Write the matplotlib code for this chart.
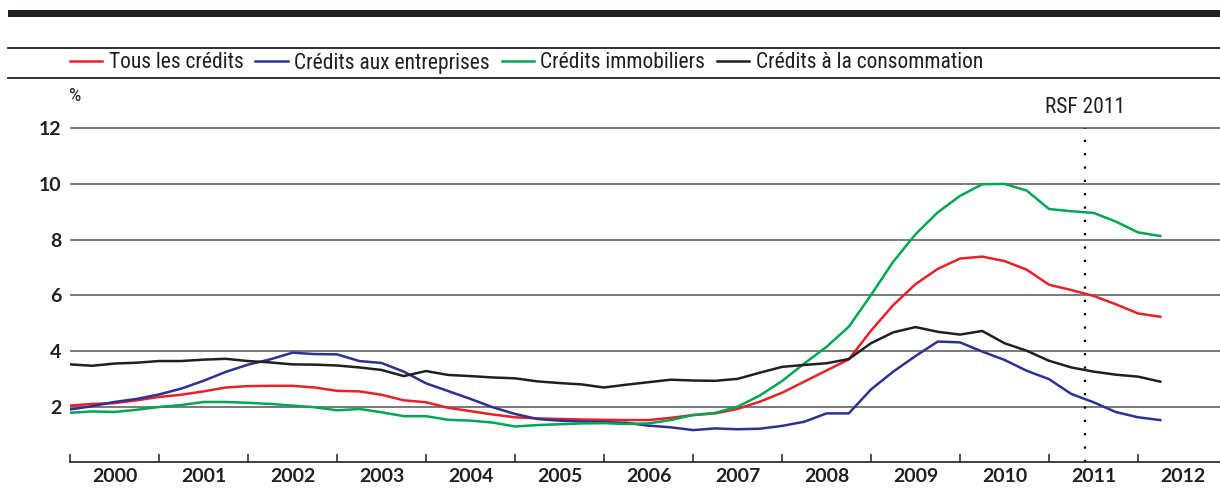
import numpy as np
import matplotlib
matplotlib.use('Agg')
import matplotlib.pyplot as plt
from matplotlib import font_manager
from matplotlib.lines import Line2D
from matplotlib.patches import Rectangle

# quarterly points, 2000 Q1 -> 2012 Q2
quarters = 2000 + np.arange(50) / 4.0
year_labels = [str(y) for y in range(2000, 2013)]

tous = [2.04, 2.10, 2.13, 2.23, 2.35, 2.43, 2.55, 2.69, 2.74, 2.75,
        2.75, 2.69, 2.57, 2.55, 2.43, 2.23, 2.16, 1.96, 1.84, 1.72,
        1.62, 1.58, 1.56, 1.54, 1.53, 1.52, 1.52, 1.60, 1.70, 1.76,
        1.92, 2.18, 2.50, 2.90, 3.30, 3.70, 4.73, 5.65, 6.40, 6.95,
        7.32, 7.39, 7.23, 6.92, 6.38, 6.19, 5.98, 5.68, 5.35, 5.23]
entreprises = [1.90, 2.02, 2.17, 2.28, 2.44, 2.65, 2.93, 3.25, 3.51, 3.70,
               3.94, 3.89, 3.88, 3.64, 3.57, 3.26, 2.84, 2.56, 2.28, 1.98,
               1.74, 1.56, 1.50, 1.47, 1.45, 1.42, 1.32, 1.26, 1.16, 1.22,
               1.19, 1.21, 1.31, 1.46, 1.76, 1.76, 2.62, 3.26, 3.82, 4.34,
               4.31, 3.98, 3.68, 3.29, 2.99, 2.46, 2.16, 1.81, 1.62, 1.52]
immobiliers = [1.78, 1.83, 1.81, 1.89, 1.99, 2.06, 2.17, 2.17, 2.14, 2.10,
               2.04, 1.98, 1.87, 1.92, 1.80, 1.66, 1.66, 1.53, 1.50, 1.43,
               1.29, 1.34, 1.37, 1.40, 1.41, 1.38, 1.40, 1.52, 1.70, 1.78,
               2.00, 2.40, 2.92, 3.55, 4.15, 4.87, 6.01, 7.21, 8.19, 8.98,
               9.57, 9.99, 10.00, 9.76, 9.10, 9.02, 8.96, 8.65, 8.26, 8.13]
consommation = [3.52, 3.47, 3.55, 3.58, 3.64, 3.64, 3.69, 3.72, 3.64, 3.59,
                3.52, 3.51, 3.48, 3.41, 3.32, 3.10, 3.28, 3.14, 3.10, 3.05,
                3.02, 2.91, 2.85, 2.80, 2.69, 2.79, 2.88, 2.97, 2.94, 2.93,
                3.00, 3.22, 3.43, 3.50, 3.56, 3.71, 4.28, 4.67, 4.86, 4.69,
                4.59, 4.72, 4.28, 4.01, 3.65, 3.41, 3.26, 3.15, 3.08, 2.90]

rsf_date = 2011.4

# pick a condensed face if one is around
installed = {f.name for f in font_manager.fontManager.ttflist}
narrow_face = None
for cand in ['Liberation Sans Narrow', 'DejaVu Sans Condensed', 'Roboto Condensed',
             'Open Sans Condensed', 'Noto Sans Display']:
    if cand in installed:
        narrow_face = cand
        break
if narrow_face:
    narrow = [narrow_face, 'DejaVu Sans']
    txt_size = 15.5
    stretch = 'normal'
else:
    narrow = ['Roboto', 'DejaVu Sans']
    txt_size = 13.5
    stretch = 'condensed'
boldfont = ['Lato', 'DejaVu Sans']

fig = plt.figure(figsize=(12.2, 4.88), dpi=100)
ax = fig.add_axes([70 / 1220, (488 - 462.4) / 488, 1150 / 1220, (462.4 - 100.4) / 488])

red, = ax.plot(quarters, tous, color='#e8202a', lw=1.8)
blue, = ax.plot(quarters, entreprises, color='#2e3192', lw=1.8)
green, = ax.plot(quarters, immobiliers, color='#00a651', lw=1.8)
black, = ax.plot(quarters, consommation, color='#231f20', lw=1.8)

# RSF 2011 marker
ax.plot([rsf_date, rsf_date], [0, 12], color='black', lw=1.6,
        linestyle=(0, (1, 5)), dash_capstyle='butt')
ax.text(rsf_date, 12.75, 'RSF 2011', ha='center', va='center',
        fontsize=txt_size, family=narrow, stretch=stretch, color='#231f20')

ax.set_xlim(2000, 2000 + 1150 / 89.0)
ax.set_ylim(0, 13)

ax.set_yticks([2, 4, 6, 8, 10, 12])
ax.yaxis.grid(True, color='#555555', lw=1.1)
ax.set_axisbelow(True)
ax.tick_params(axis='y', length=0, pad=6, labelsize=14)
for lab in ax.get_yticklabels():
    lab.set_family(boldfont)
    lab.set_fontweight('bold')
    lab.set_color('#231f20')

ax.set_xticks(range(2000, 2013))
ax.set_xticklabels([])
ax.set_xticks(np.arange(2000.5, 2013), minor=True)
ax.set_xticklabels(year_labels, minor=True)
ax.tick_params(axis='x', which='major', direction='in', length=6, width=1.1, color='#231f20')
ax.tick_params(axis='x', which='minor', length=0, pad=4, labelsize=14)
for lab in ax.get_xticklabels(minor=True):
    lab.set_family(boldfont)
    lab.set_fontweight('bold')
    lab.set_color('#231f20')

for s in ['top', 'right', 'left']:
    ax.spines[s].set_visible(False)
ax.spines['bottom'].set_color('#231f20')
ax.spines['bottom'].set_linewidth(1.2)

fig.text(75 / 1220, (488 - 96) / 488, '%', ha='center', va='center',
         fontsize=txt_size - 1.5, family=narrow, stretch=stretch, color='#231f20')

# header rules
fig.add_artist(Rectangle((8 / 1220, (488 - 16.5) / 488), 1212 / 1220, 6.5 / 488,
                         transform=fig.transFigure, color='#231f20', lw=0))
for yy in [47.7, 78.3]:
    fig.add_artist(Line2D([8 / 1220, 1.0], [(488 - yy) / 488] * 2,
                          transform=fig.transFigure, color='#231f20', lw=1.3))

leg = fig.legend([red, blue, green, black],
                 ['Tous les crédits', 'Crédits aux entreprises',
                  'Crédits immobiliers', 'Crédits à la consommation'],
                 loc='center left', bbox_to_anchor=(70 / 1220, (488 - 63) / 488),
                 ncol=4, frameon=False, handlelength=1.5, handletextpad=0.3,
                 columnspacing=0.55, borderaxespad=0, borderpad=0,
                 prop={'family': narrow, 'size': txt_size, 'stretch': stretch})
for t in leg.get_texts():
    t.set_color('#231f20')

fig.savefig('out.png', dpi=100)
